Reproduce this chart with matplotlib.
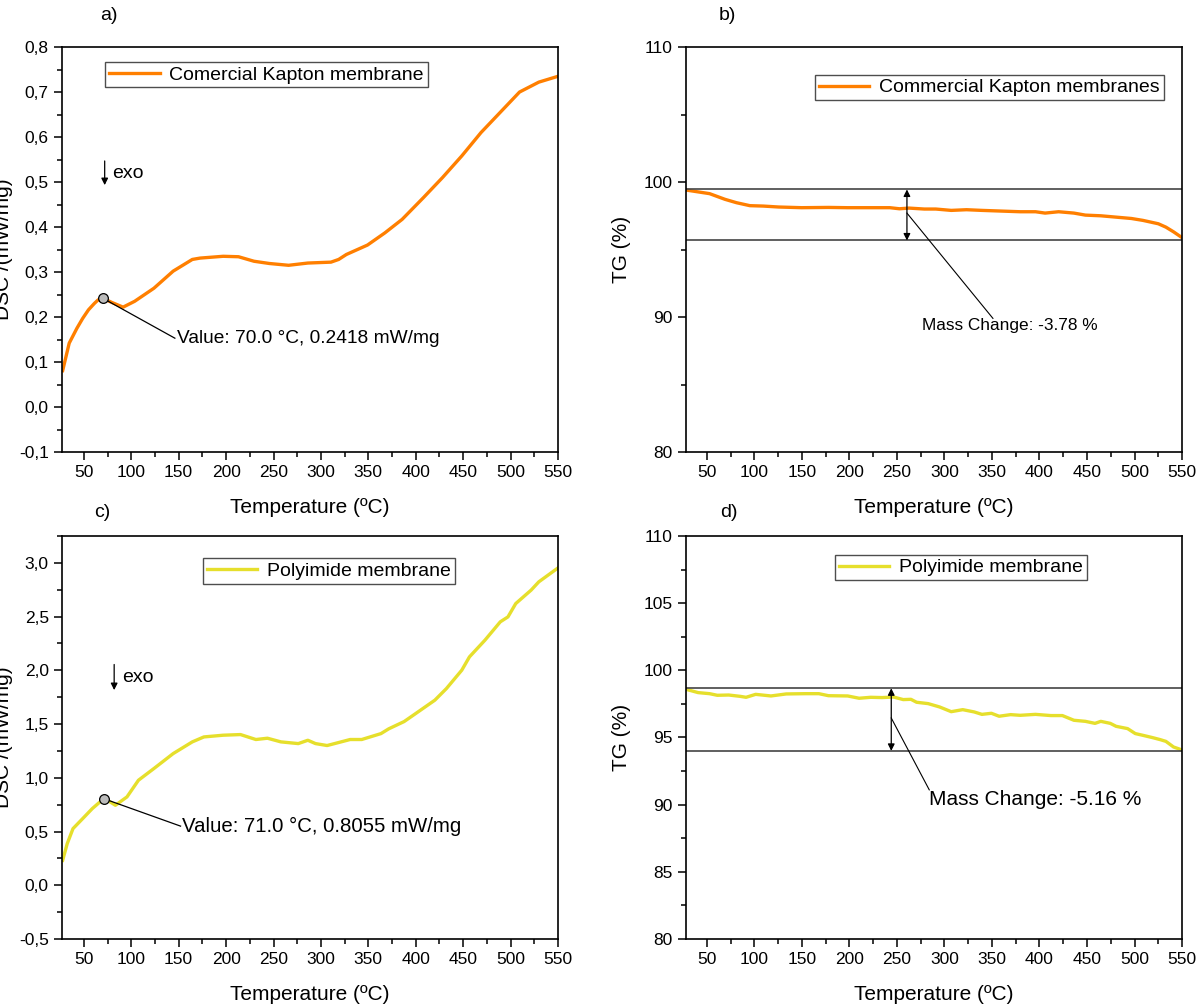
import matplotlib
matplotlib.use("Agg")
import matplotlib.pyplot as plt
from matplotlib.ticker import FuncFormatter, MultipleLocator

plt.rcParams["font.family"] = ["Liberation Sans", "DejaVu Sans"]

ORANGE = "#FF7F00"
YELLOW = "#E6DF2C"

# a) DSC, commercial Kapton membrane
kapton_dsc_t = [27.7, 34.6, 42.7, 48.8, 54.9, 61, 65, 70, 80, 91.4, 103.6, 123.9, 144.2, 164.4,
                172.6, 196.9, 213.1, 229.4, 245.6, 265.9, 286.2, 310.6, 318.7, 326.8, 349.1,
                367.4, 385.6, 407.9, 428.2, 448.5, 468.8, 489.1, 509.4, 529.7, 550]
kapton_dsc_v = [0.081, 0.142, 0.175, 0.197, 0.216, 0.230, 0.238, 0.2418, 0.232, 0.222, 0.235,
                0.264, 0.302, 0.328, 0.331, 0.335, 0.334, 0.324, 0.319, 0.315, 0.320, 0.322,
                0.328, 0.339, 0.360, 0.387, 0.417, 0.465, 0.510, 0.558, 0.610, 0.655, 0.700,
                0.722, 0.735]

# b) TG, commercial Kapton membrane
kapton_tg_t = [27.8, 52.8, 69, 81.1, 95.2, 109.3, 125.5, 149.7, 177.9, 198.1, 218.3, 242.5,
               252.6, 262.7, 278.8, 290.9, 307.1, 323.2, 339.4, 359.5, 379.7, 395.8, 405.9,
               420.1, 436.2, 448.3, 464.5, 480.6, 496.7, 508.8, 525, 533, 541.1, 549.2]
kapton_tg_v = [99.41, 99.14, 98.72, 98.47, 98.25, 98.22, 98.15, 98.10, 98.12, 98.10, 98.10,
               98.10, 98.02, 98.07, 98.00, 98.00, 97.90, 97.95, 97.90, 97.85, 97.80, 97.80,
               97.70, 97.80, 97.70, 97.55, 97.50, 97.40, 97.30, 97.16, 96.91, 96.66, 96.31,
               95.92]

# c) DSC, polyimide membrane
pi_dsc_t = [27.7, 32.5, 38.6, 48.8, 58.9, 71, 75.2, 83.3, 95.5, 107.6, 123.9, 144.2, 164.4,
            176.6, 196.9, 215.2, 231.4, 243.6, 257.8, 276.1, 286.2, 294.3, 306.5, 318.7,
            330.8, 343, 363.3, 371.4, 387.7, 399.8, 420.1, 432.3, 448.5, 456.6, 472.9,
            489.1, 497.2, 505.4, 521.6, 529.7, 550]
pi_dsc_v = [0.232, 0.387, 0.527, 0.620, 0.713, 0.8055, 0.790, 0.744, 0.822, 0.977, 1.086,
            1.225, 1.334, 1.380, 1.396, 1.402, 1.356, 1.368, 1.334, 1.318, 1.349, 1.318,
            1.300, 1.328, 1.356, 1.356, 1.411, 1.455, 1.523, 1.597, 1.722, 1.830, 2.001,
            2.125, 2.280, 2.451, 2.497, 2.621, 2.746, 2.823, 2.953]

# d) TG, polyimide membrane
pi_tg_t = [27.8, 40.7, 52.8, 60.9, 73, 85.1, 91.2, 101.3, 117.4, 133.5, 153.7, 167.8, 177.9,
           198.1, 210.2, 222.3, 234.4, 246.5, 256.6, 264.7, 270.7, 282.8, 294.9, 307.1,
           319.2, 331.3, 339.4, 349.4, 357.5, 369.6, 379.7, 395.8, 412, 424.1, 436.2,
           448.3, 458.4, 464.5, 474.5, 480.6, 492.7, 500.8, 508.8, 518.9, 527, 533,
           541.1, 549.2]
pi_tg_v = [98.59, 98.34, 98.26, 98.14, 98.16, 98.06, 97.99, 98.21, 98.09, 98.24, 98.26,
           98.26, 98.11, 98.09, 97.92, 97.99, 97.97, 98.01, 97.82, 97.84, 97.62, 97.52,
           97.27, 96.92, 97.07, 96.90, 96.72, 96.80, 96.58, 96.70, 96.65, 96.72, 96.63,
           96.63, 96.28, 96.20, 96.05, 96.20, 96.05, 95.83, 95.66, 95.29, 95.16, 94.99,
           94.84, 94.71, 94.29, 94.09]

kapton_peak = (70.0, 0.2418)
pi_peak = (71.0, 0.8055)
kapton_mass_lines = (99.45, 95.67)
pi_mass_lines = (98.66, 94.0)


def comma_fmt(v, _pos):
    return f"{v:.1f}".replace(".", ",")


def style_axes(ax, xlim, ylim, ymajor, yminor, comma=False):
    ax.set_xlim(*xlim)
    ax.set_ylim(*ylim)
    ax.xaxis.set_major_locator(MultipleLocator(50))
    ax.xaxis.set_minor_locator(MultipleLocator(25))
    ax.yaxis.set_major_locator(MultipleLocator(ymajor))
    ax.yaxis.set_minor_locator(MultipleLocator(yminor))
    if comma:
        ax.yaxis.set_major_formatter(FuncFormatter(comma_fmt))
    ax.tick_params(which="both", direction="out", top=False, right=False, labelsize=12.5, width=1.1)
    ax.tick_params(which="major", length=6)
    ax.tick_params(which="minor", length=3.5)
    for spine in ax.spines.values():
        spine.set_linewidth(1.2)
    ax.set_xlabel("Temperature (ºC)", fontsize=15, labelpad=13)


def add_legend(ax, x, y):
    leg = ax.legend(loc="upper left", bbox_to_anchor=(x, y), fontsize=14, frameon=True,
                    fancybox=False, borderaxespad=0, handlelength=2.6, borderpad=0.2,
                    handletextpad=0.5)
    leg.get_frame().set_edgecolor("#222222")
    leg.get_frame().set_linewidth(1.0)


def dsc_panel(ax, t, v, color, label, peak, ylim, ymajor, yminor, exo_xy, text_xy, fs, legend_xy):
    ax.plot(t, v, color=color, lw=2.4, label=label)
    style_axes(ax, (27, 550), ylim, ymajor, yminor, comma=True)
    ax.set_ylabel("DSC /(mW/mg)", fontsize=15)
    ax.yaxis.set_label_coords(-0.098, 0.5)
    add_legend(ax, *legend_xy)
    ax.annotate("", xy=(exo_xy[0], exo_xy[2]), xytext=(exo_xy[0], exo_xy[1]),
                arrowprops=dict(arrowstyle="-|>", color="black", lw=0.9, mutation_scale=10))
    ax.text(exo_xy[0] + 8, (exo_xy[1] + exo_xy[2]) / 2, "exo", fontsize=14, va="center")
    ax.plot([peak[0], text_xy[0]], [peak[1], text_xy[1]], color="black", lw=0.9)
    ax.plot(*peak, "o", ms=7, mfc="#bbbbbb", mec="black", mew=0.9, zorder=5)
    ax.text(text_xy[0] + 2, text_xy[1], f"Value: {peak[0]:.1f} °C, {peak[1]:.4f} mW/mg",
            fontsize=fs, va="center")


def tg_panel(ax, t, v, color, label, lines, ymajor, yminor, arrow_x, line_start, line_end,
             text_xy, fs, legend_xy):
    ax.plot(t, v, color=color, lw=2.4, label=label)
    style_axes(ax, (28, 550), (80, 110), ymajor, yminor)
    ax.set_ylabel("TG (%)", fontsize=15)
    ax.yaxis.set_label_coords(-0.11, 0.5)
    for yv in lines:
        ax.axhline(yv, color="#444444", lw=1.2)
    ax.annotate("", xy=(arrow_x, lines[0]), xytext=(arrow_x, lines[1]),
                arrowprops=dict(arrowstyle="<|-|>", color="black", lw=0.9, mutation_scale=10,
                                shrinkA=0, shrinkB=0))
    ax.plot([line_start[0], line_end[0]], [line_start[1], line_end[1]], color="black", lw=0.8)
    ax.text(text_xy[0], text_xy[1], text_xy[2], fontsize=fs, va="top", ha="left")
    add_legend(ax, *legend_xy)


fig = plt.figure(figsize=(11.97, 10.05), dpi=100)
ax_a = fig.add_axes([0.0518, 0.5502, 0.4144, 0.403])
ax_b = fig.add_axes([0.5731, 0.5502, 0.4144, 0.403])
ax_c = fig.add_axes([0.0518, 0.0657, 0.4144, 0.401])
ax_d = fig.add_axes([0.5731, 0.0657, 0.4144, 0.401])

dsc_panel(ax_a, kapton_dsc_t, kapton_dsc_v, ORANGE, "Comercial Kapton membrane", kapton_peak,
          (-0.1, 0.8), 0.1, 0.05, (72, 0.553, 0.487), (146, 0.153), 13.8, (0.087, 0.963))
dsc_panel(ax_c, pi_dsc_t, pi_dsc_v, YELLOW, "Polyimide membrane", pi_peak,
          (-0.5, 3.25), 0.5, 0.25, (82, 2.08, 1.79), (152, 0.55), 14.7, (0.284, 0.945))

tg_panel(ax_b, kapton_tg_t, kapton_tg_v, ORANGE, "Commercial Kapton membranes",
         kapton_mass_lines, 10, 5, 260.5, (260.5, 97.7), (351, 89.9),
         (276, 89.95, "Mass Change: -3.78 %"), 12.4, (0.26, 0.931))
tg_panel(ax_d, pi_tg_t, pi_tg_v, YELLOW, "Polyimide membrane",
         pi_mass_lines, 5, 2.5, 244, (244, 96.45), (284, 91.1),
         (284, 91.1, "Mass Change: -5.16 %"), 15, (0.30, 0.953))

for lbl, x, y in [("a)", 0.0835, 0.985), ("b)", 0.600, 0.985), ("c)", 0.079, 0.4896),
                  ("d)", 0.6015, 0.4896)]:
    fig.text(x, y, lbl, fontsize=14, ha="left", va="center")

fig.savefig("out.png", dpi=100)
